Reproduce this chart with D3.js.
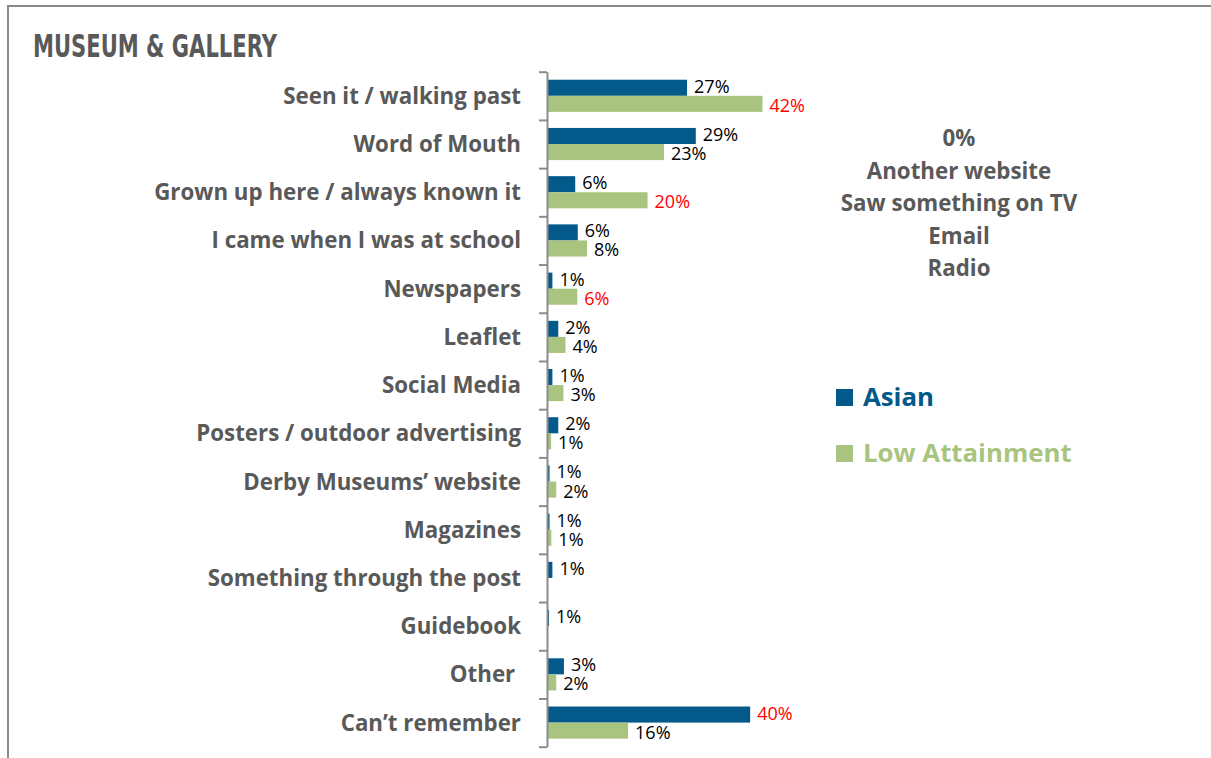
<!DOCTYPE html>
<html><head><meta charset="utf-8">
<script src="https://cdn.jsdelivr.net/npm/d3@7"></script>
<style>body{margin:0;background:#fff}svg{display:block}text{font-family:"Open Sans",Lato,sans-serif}</style>
</head><body><svg id="c" width="1211" height="758"></svg>
<script>
const categories = ["Seen it / walking past","Word of Mouth","Grown up here / always known it","I came when I was at school","Newspapers","Leaflet","Social Media","Posters / outdoor advertising","Derby Museums\u2019 website","Magazines","Something through the post","Guidebook","Other ","Can\u2019t remember"];
const asianValues = [27.3,29.0,5.5,6.0,1.05,2.2,1.05,2.2,0.5,0.5,1.05,0.4,3.3,39.6];
const lowValues   = [42.0,22.8,19.6,7.8,5.9,3.6,3.2,0.8,1.8,0.85,0,0,1.8,15.8];
const asianLabels = ["27%","29%","6%","6%","1%","2%","1%","2%","1%","1%","1%","1%","3%","40%"];
const lowLabels   = ["42%","23%","20%","8%","6%","4%","3%","1%","2%","1%","","","2%","16%"];
const asianRed = [false,false,false,false,false,false,false,false,false,false,false,false,false,true];
const lowRed   = [true,false,true,false,true,false,false,false,false,false,false,false,false,false];
const zeroItems = ["0%","Another website","Saw something on TV","Email","Radio"];
const seriesNames = ["Asian","Low Attainment"];
const colors = ["#02598a","#a9c47e"];
const gray = "#595959";

const svg = d3.select("#c");
svg.append("path").attr("d","M8,758V6H1211").attr("fill","none").attr("stroke","#8a8a8a").attr("stroke-width",2);
svg.append("text").attr("x",33).attr("y",57).attr("textLength",244).attr("lengthAdjust","spacingAndGlyphs")
  .style("font-family","'DejaVu Sans'").style("font-weight","bold").style("font-size","32px").attr("fill",gray)
  .text("MUSEUM & GALLERY");

const yTop = 71.7, yBottom = 746.7, x0 = 547;
const y = d3.scaleBand().domain(categories).range([yTop,yBottom]).paddingInner(1/3).paddingOuter(1/6);
const sub = d3.scaleBand().domain(seriesNames).range([0,y.bandwidth()]);
const x = d3.scaleLinear().domain([0,100]).range([x0, x0+513]);

const rows = categories.map((c,i)=>({c, vals:[
  {s:seriesNames[0], v:asianValues[i], l:asianLabels[i], red:asianRed[i]},
  {s:seriesNames[1], v:lowValues[i], l:lowLabels[i], red:lowRed[i]}]}));

const g = svg.selectAll("g.row").data(rows).join("g").attr("class","row")
  .attr("transform",d=>`translate(0,${y(d.c)})`);
g.selectAll("rect").data(d=>d.vals.filter(v=>v.v>0)).join("rect")
  .attr("x",x(0)).attr("y",d=>sub(d.s)).attr("width",d=>x(d.v)-x(0)).attr("height",sub.bandwidth())
  .attr("fill",(d)=>colors[seriesNames.indexOf(d.s)]);
g.selectAll("text.lbl").data(d=>d.vals.filter(v=>v.l)).join("text").attr("class","lbl")
  .attr("x",d=>x(d.v)+7)
  .attr("y",d=>sub(d.s)+sub.bandwidth()/2+(d.s===seriesNames[0]?-1.5:1.5)).attr("dy","0.36em")
  .style("font-size","18px").attr("fill",d=>d.red?"#ff0000":"#000").text(d=>d.l);

svg.selectAll("text.cat").data(categories).join("text").attr("class","cat")
  .attr("x",521).attr("y",d=>y(d)+y.bandwidth()/2).attr("dy","0.36em").attr("text-anchor","end")
  .style("white-space","pre").style("font-weight","bold").style("font-size","22.3px").attr("fill",gray).text(d=>d);

const yb = d3.scaleLinear().domain([0,categories.length]).range([yTop,yBottom]);
const ax = svg.append("g").attr("transform",`translate(${x0},0)`)
  .call(d3.axisLeft(yb).tickValues(d3.range(categories.length+1)).tickSize(8).tickSizeOuter(0).tickFormat(""));
ax.selectAll("path,line").attr("stroke","#8c8c8c").attr("stroke-width",2);

svg.selectAll("text.zero").data(zeroItems).join("text").attr("class","zero")
  .attr("x",959).attr("y",(d,i)=>138+i*32.5).attr("dy","0.36em").attr("text-anchor","middle")
  .style("font-weight","bold").style("font-size","22.3px").attr("fill",gray).text(d=>d);

const lg = svg.selectAll("g.leg").data(seriesNames).join("g").attr("class","leg")
  .attr("transform",(d,i)=>`translate(836,${389+i*56})`);
lg.append("rect").attr("width",17).attr("height",17).attr("fill",(d,i)=>colors[i]);
lg.append("text").attr("x",27).attr("y",17).style("font-weight","bold").style("font-size","25.8px")
  .attr("fill",(d,i)=>colors[i]).text(d=>d);
</script></body></html>
